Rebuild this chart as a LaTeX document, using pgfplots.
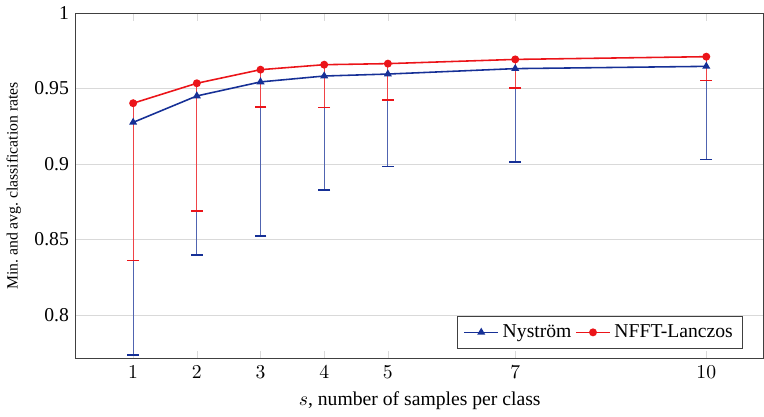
\documentclass[border=0pt]{standalone}
\usepackage{pgfplots}
\pgfplotsset{compat=1.18}
\usepackage{fontspec}
\setmainfont{Liberation Serif}
\definecolor{nblue}{RGB}{22,48,150}
\definecolor{nred}{RGB}{235,20,25}
\begin{document}
\begin{tikzpicture}
\begin{axis}[
  scale only axis,
  width=350pt, height=176pt,
  xmin=0.1, xmax=10.9,
  ymin=0.771, ymax=1,
  xtick={1,2,3,4,5,7,10},
  ytick={0.8,0.85,0.9,0.95,1},
  yticklabels={0.8,0.85,0.9,0.95,1},
  ymajorgrids,
  grid style={gray!30},
  major tick style={gray!30},
  tick align=inside,
  axis line style={black!75},
  xtick pos=both, ytick pos=left,
  xlabel={$s$, number of samples per class},
  ylabel={Min.\ and avg.\ classification rates},
  ylabel style={font=\footnotesize},
  legend columns=2,
  legend style={at={(0.97,0.03)},anchor=south east,draw=black!75,font=\normalsize},
  legend cell align=left,
]
\addplot[nblue, thick, mark=triangle*, mark size=1.6pt,
  error bars/.cd, y dir=minus, y explicit,
  error bar style={nblue!75,line width=0.5pt}, error mark options={nblue,rotate=90,mark size=3pt,line width=0.8pt}]
  table[x=x,y=y,y error minus=e] {
x y e
1 0.9276 0.1542
2 0.9451 0.1053
3 0.9544 0.1020
4 0.9583 0.0754
5 0.9596 0.0611
7 0.9632 0.0620
10 0.9647 0.0618
};
\addlegendentry{Nystr\"om}
\addplot[nred, thick, mark=*, mark size=1.6pt,
  error bars/.cd, y dir=minus, y explicit,
  error bar style={nred!80,line width=0.5pt}, error mark options={nred,rotate=90,mark size=3pt,line width=0.8pt}]
  table[x=x,y=y,y error minus=e] {
x y e
1 0.9403 0.1042
2 0.9535 0.0844
3 0.9625 0.0248
4 0.9658 0.0283
5 0.9665 0.0242
7 0.9693 0.0191
10 0.9711 0.0158
};
\addlegendentry{NFFT-Lanczos}
\end{axis}
\end{tikzpicture}
\end{document}
